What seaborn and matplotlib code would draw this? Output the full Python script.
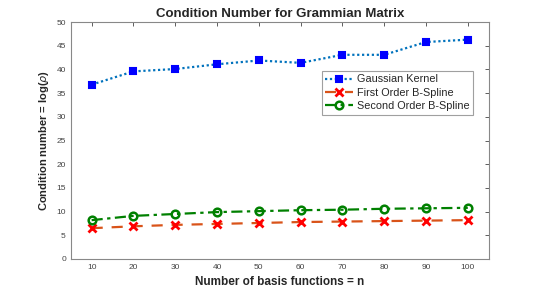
import matplotlib
matplotlib.use('Agg')
import matplotlib.pyplot as plt
import seaborn as sns
import pandas as pd

# data
n_basis = [10, 20, 30, 40, 50, 60, 70, 80, 90, 100]
gaussian = [36.8, 39.6, 40.1, 41.1, 41.9, 41.4, 43.1, 43.1, 45.8, 46.3]
first_order = [6.5, 6.9, 7.2, 7.4, 7.6, 7.8, 7.9, 8.0, 8.1, 8.2]
second_order = [8.2, 9.1, 9.5, 9.9, 10.1, 10.3, 10.4, 10.6, 10.7, 10.8]
series_names = ['Gaussian Kernel', 'First Order B-Spline', 'Second Order B-Spline']

sns.set_style('white')
plt.rcParams['font.family'] = ['Liberation Sans', 'DejaVu Sans']

fig = plt.figure(figsize=(5.4, 2.91), dpi=100)
ax = fig.add_axes([0.131, 0.110, 0.774, 0.814])

df = pd.DataFrame({'n': n_basis,
                   series_names[0]: gaussian,
                   series_names[1]: first_order,
                   series_names[2]: second_order})

styles = {
    series_names[0]: dict(color=(0, 0.447, 0.741), linestyle=(0, (1, 1.2)), marker='s',
                          mfc='blue', mec='blue', markersize=5, mew=1.5),
    series_names[1]: dict(color=(0.85, 0.325, 0.098), linestyle=(0, (5, 4)), marker='x',
                          mfc='red', mec='red', markersize=5.5, mew=2),
    series_names[2]: dict(color=(0, 0.5, 0), linestyle=(0, (5, 2, 1.5, 2)), marker='o',
                          mfc='none', mec=(0, 0.5, 0), markersize=5.5, mew=1.8),
}

for name in series_names:
    st = styles[name]
    sns.lineplot(data=df, x='n', y=name, ax=ax, label=name, linewidth=1.6,
                 color=st['color'], linestyle=st['linestyle'], marker=st['marker'],
                 markerfacecolor=st['mfc'], markeredgecolor=st['mec'],
                 markersize=st['markersize'], markeredgewidth=st['mew'])

ax.set_xlim(5, 105)
ax.set_ylim(0, 50)
ax.set_xticks(n_basis)
ax.set_yticks(range(0, 51, 5))
ax.tick_params(direction='in', top=True, right=True, labelsize=6, colors='#444444',
               length=3, width=0.6)
for sp in ax.spines.values():
    sp.set_color('#888888')
    sp.set_linewidth(0.8)

ax.set_title('Condition Number for Grammian Matrix', fontsize=9.5, fontweight='bold', pad=4)
ax.set_xlabel('Number of basis functions = n', fontsize=8.5, fontweight='bold', labelpad=4)
ax.set_ylabel(r'Condition number = log($\rho$)', fontsize=8, fontweight='bold', labelpad=4)

leg = ax.legend(loc='upper left', bbox_to_anchor=(0.6, 0.795), fontsize=7.8,
                frameon=True, fancybox=False, borderpad=0.35, labelspacing=0.3,
                handlelength=2.6, handletextpad=0.3, borderaxespad=0)
leg.get_frame().set_edgecolor('#888888')
leg.get_frame().set_linewidth(0.8)

fig.savefig('out.png', dpi=100)
